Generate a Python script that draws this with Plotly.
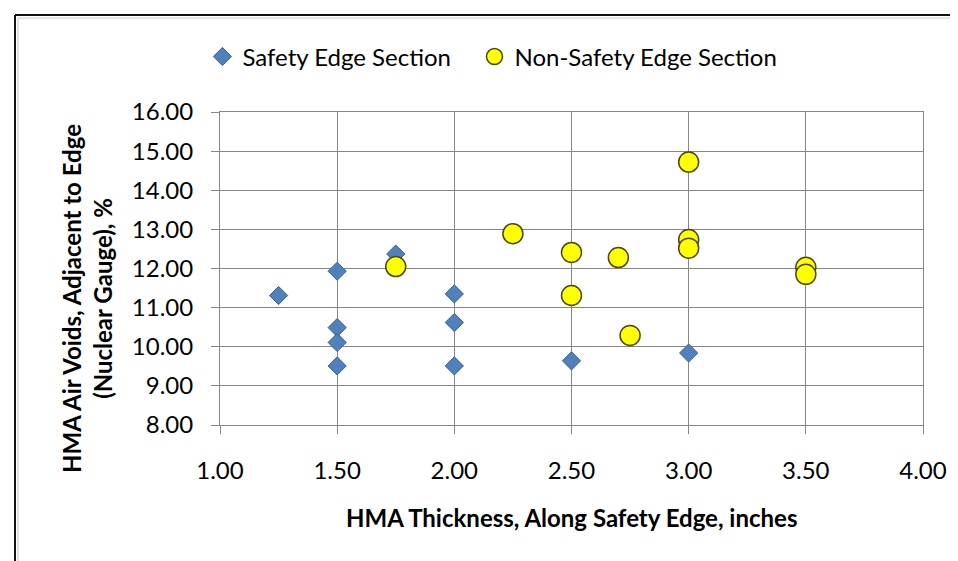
import plotly.graph_objects as go

# Safety Edge Section (diamonds)
safety_x = [1.25, 1.50, 1.50, 1.50, 1.50, 1.75, 2.00, 2.00, 2.00, 2.50, 3.00]
safety_y = [11.31, 11.93, 10.49, 10.11, 9.51, 12.37, 11.35, 10.62, 9.51, 9.64, 9.84]

# Non-Safety Edge Section (circles)
nonsafety_x = [1.75, 2.25, 2.50, 2.50, 2.70, 2.75, 3.00, 3.00, 3.00, 3.50, 3.50]
nonsafety_y = [12.05, 12.89, 12.41, 11.31, 12.28, 10.29, 14.72, 12.74, 12.52, 12.03, 11.85]

x_ticks = [1.0, 1.5, 2.0, 2.5, 3.0, 3.5, 4.0]
y_ticks = [8, 9, 10, 11, 12, 13, 14, 15, 16]

FONT = "Lato"
GRID = "#868686"

fig = go.Figure()
fig.add_trace(go.Scatter(
    x=safety_x, y=safety_y, mode="markers", name="Safety Edge Section",
    marker=dict(symbol="diamond", size=14, color="#4F81BD",
                line=dict(color="#3A5F8C", width=1)),
    legend="legend",
))
fig.add_trace(go.Scatter(
    x=nonsafety_x, y=nonsafety_y, mode="markers", name="Non-Safety Edge Section",
    marker=dict(symbol="circle", size=20, color="#FFFF00",
                line=dict(color="#4a4a10", width=1.5)),
    legend="legend2",
))

legend_common = dict(orientation="h", yanchor="middle", xanchor="left",
                     font=dict(family=FONT, size=24, color="#000000"),
                     bgcolor="rgba(0,0,0,0)", itemwidth=30)

fig.update_layout(
    width=958, height=561,
    margin=dict(l=212, r=43, t=104, b=144),
    paper_bgcolor="white", plot_bgcolor="white",
    font=dict(family=FONT, size=24, color="#000000"),
    showlegend=True,
    legend=dict(x=-0.025, y=1.176, **legend_common),
    legend2=dict(x=0.362, y=1.176, **legend_common),
    xaxis=dict(range=[1, 4], tickvals=x_ticks, tickformat=".2f",
               showgrid=True, gridcolor=GRID, gridwidth=1,
               showline=True, linecolor=GRID, linewidth=1, mirror=True,
               ticks="outside", ticklen=8, tickcolor=GRID,
               ticklabelstandoff=16, zeroline=False,
               tickfont=dict(family=FONT, size=24, color="#000000")),
    yaxis=dict(range=[8, 16], tickvals=y_ticks, tickformat=".2f",
               showgrid=True, gridcolor=GRID, gridwidth=1,
               showline=True, linecolor=GRID, linewidth=1, mirror=True,
               ticks="outside", ticklen=8, tickcolor=GRID,
               ticklabelstandoff=13, zeroline=False,
               tickfont=dict(family=FONT, size=24, color="#000000")),
    annotations=[
        dict(text="<b>HMA Thickness, Along Safety Edge, inches</b>",
             xref="paper", yref="paper", x=0.5, y=-0.297,
             xanchor="center", yanchor="middle", showarrow=False,
             font=dict(family=FONT, size=24, color="#000000")),
        dict(text="<b>HMA Air Voids, Adjacent to Edge<br>(Nuclear Gauge), %</b>",
             xref="paper", yref="paper", x=-0.1892, y=0.4058, textangle=-90,
             xanchor="center", yanchor="middle", showarrow=False,
             font=dict(family=FONT, size=24, color="#000000")),
    ],
    shapes=[
        dict(type="line", xref="paper", yref="paper",
             x0=-0.2916, x1=-0.2916, y0=-0.4537, y1=1.310,
             line=dict(color="#111111", width=2)),
        dict(type="line", xref="paper", yref="paper",
             x0=-0.2916, x1=1.07, y0=1.310, y1=1.310,
             line=dict(color="#111111", width=2)),
        dict(type="line", xref="paper", yref="paper",
             x0=-0.2873, x1=-0.2873, y0=-0.445, y1=1.300,
             line=dict(color="#c8c8c8", width=1)),
        dict(type="line", xref="paper", yref="paper",
             x0=-0.2873, x1=1.07, y0=1.300, y1=1.300,
             line=dict(color="#c8c8c8", width=1)),
        dict(type="line", xref="paper", yref="paper",
             x0=-0.2916, x1=1.07, y0=-0.4537, y1=-0.4537,
             line=dict(color="#9a9a9a", width=2)),
    ],
)

fig.write_html("out.html")
